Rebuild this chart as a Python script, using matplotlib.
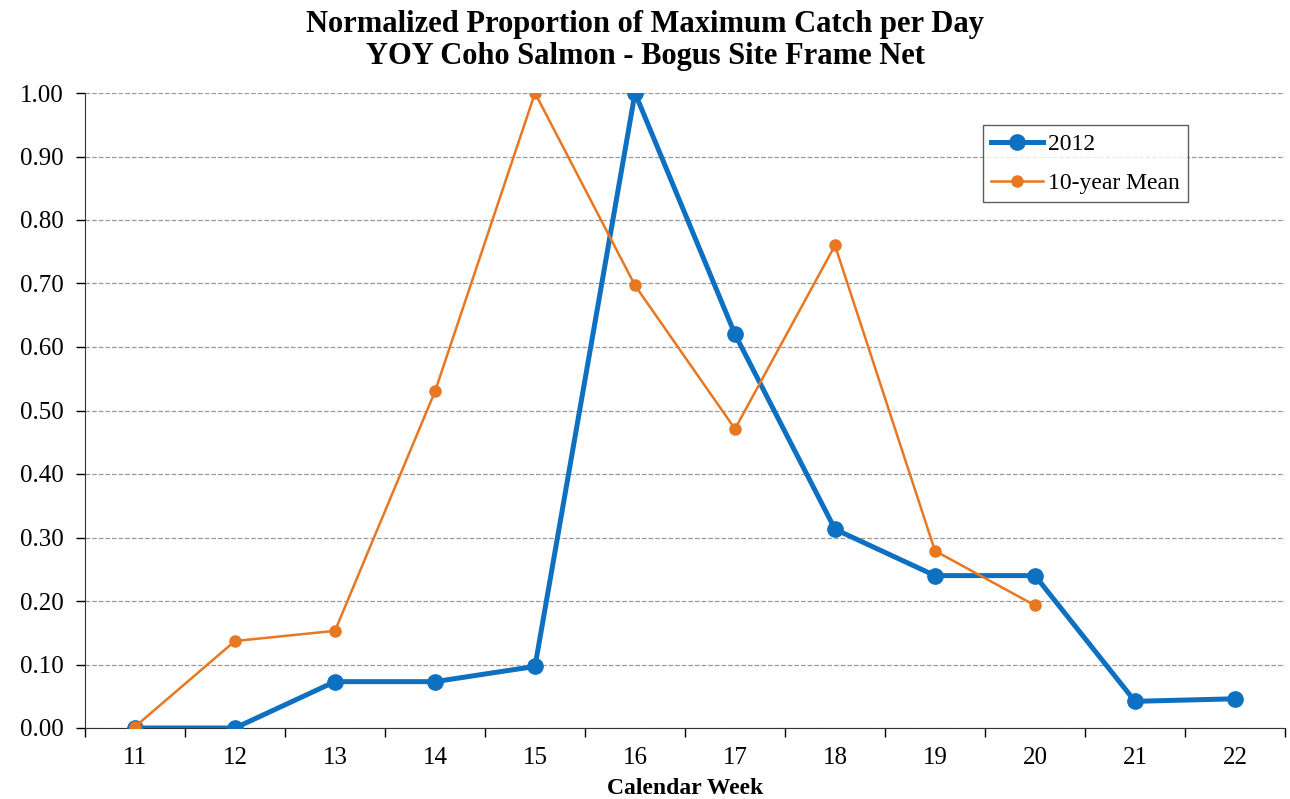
import matplotlib
matplotlib.use("Agg")
import matplotlib.pyplot as plt
import numpy as np

weeks = ["11", "12", "13", "14", "15", "16", "17", "18", "19", "20", "21", "22"]
catch_2012 = [0.0, 0.0, 0.073, 0.073, 0.097, 1.0, 0.62, 0.313, 0.24, 0.24, 0.042, 0.046]
mean_10yr = [0.002, 0.137, 0.153, 0.53, 1.0, 0.697, 0.471, 0.76, 0.279, 0.193]

plt.rcParams['font.family'] = ['Liberation Serif', 'DejaVu Serif']

fig = plt.figure(figsize=(12.9, 7.99), dpi=100)
ax = fig.add_axes([85 / 1290, 71 / 799, 1200 / 1290, 635 / 799])

x = np.arange(len(weeks))
ax.plot(x, catch_2012, color='#0e70c0', lw=3.6, marker='o', ms=11, label='2012', zorder=3)
ax.plot(x[:len(mean_10yr)], mean_10yr, color='#e87722', lw=1.8, marker='o', ms=8,
        label='10-year Mean', zorder=4)

ax.set_xlim(-0.5, len(weeks) - 0.5)
ax.set_ylim(0, 1.0)
ax.set_yticks(np.arange(0, 1.01, 0.1))
ax.set_yticklabels([f"{v:.2f}" for v in np.arange(0, 1.01, 0.1)])
ax.set_xticks(x)
ax.set_xticklabels(weeks)
ax.set_xticks(np.arange(-0.5, len(weeks), 1), minor=True)
ax.tick_params(axis='x', which='major', length=0, pad=14, labelsize=18)
ax.tick_params(axis='x', which='minor', length=6.5, direction='out', width=1)
ax.tick_params(axis='y', length=6.5, direction='out', width=1, labelsize=18, pad=9)

ax.grid(axis='y', linestyle='--', color='#999999', lw=0.9)
ax.set_axisbelow(True)
for s in ['top', 'right']:
    ax.spines[s].set_visible(False)
for s in ['left', 'bottom']:
    ax.spines[s].set_color('#333333')

ax.set_xlabel("Calendar Week", fontsize=17, fontweight='bold', labelpad=6)
fig.suptitle("Normalized Proportion of Maximum Catch per Day\nYOY Coho Salmon - Bogus Site Frame Net",
             fontsize=22, fontweight='bold', y=0.988, linespacing=1.15)

leg = ax.legend(loc='upper left', bbox_to_anchor=(983 / 1290, 1 - 125 / 799),
                bbox_transform=fig.transFigure,
                fontsize=17, frameon=True, fancybox=False, edgecolor='#333333',
                handlelength=2.2, handletextpad=0.2, borderpad=0.35, labelspacing=0.75,
                borderaxespad=0)
leg.get_frame().set_linewidth(1.0)

fig.savefig("out.png", dpi=100)
